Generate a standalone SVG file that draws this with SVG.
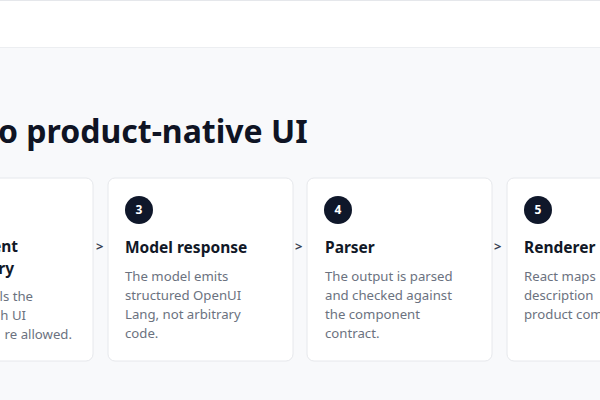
<svg xmlns="http://www.w3.org/2000/svg" width="600" height="400" viewBox="0 0 600 400">
<style>
text{font-family:"Noto Sans","Open Sans",sans-serif}
.card{fill:#fff;stroke:#e6e8ec;stroke-width:1}
.num{fill:#0f172a}
.nt{fill:#fff;font-size:12px;font-weight:700;text-anchor:middle}
.h{fill:#111827;font-size:15.5px;font-weight:700}
.d{fill:#6b7280;font-size:13.2px}
.arr{fill:#374151;font-size:13px;font-weight:700}
</style>
<rect width="600" height="400" fill="#f8f9fb"/>
<rect x="0" y="0" width="600" height="47" fill="#fff"/>
<line x1="0" y1="0.5" x2="600" y2="0.5" stroke="#e5e7eb"/>
<line x1="0" y1="47.5" x2="600" y2="47.5" stroke="#eceef1"/>
<text x="-2" y="143" fill="#0f1424" font-size="32" font-weight="700">o product-native UI</text>
<g id="node2">
<rect class="card" x="-20" y="178" width="113" height="183" rx="7"/>
<text class="h" x="18" y="252" text-anchor="end">ent</text>
<text class="h" x="14" y="274" text-anchor="end">ry</text>
<text class="d" x="33" y="301" text-anchor="end">ls the</text>
<text class="d" x="26" y="320" text-anchor="end">h UI</text>
<text class="d" x="72" y="339" text-anchor="end">re allowed.</text>
</g>
<g id="node3">
<rect class="card" x="108" y="178" width="185" height="183" rx="7"/>
<circle class="num" cx="139" cy="210" r="14"/><text class="nt" x="139" y="214">3</text>
<text class="h" x="125" y="253">Model response</text>
<text class="d" x="125" y="281">The model emits</text>
<text class="d" x="125" y="300">structured OpenUI</text>
<text class="d" x="125" y="319">Lang, not arbitrary</text>
<text class="d" x="125" y="338">code.</text>
</g>
<g id="node4">
<rect class="card" x="307" y="178" width="185" height="183" rx="7"/>
<circle class="num" cx="338" cy="210" r="14"/><text class="nt" x="338" y="214">4</text>
<text class="h" x="325" y="253">Parser</text>
<text class="d" x="325" y="281">The output is parsed</text>
<text class="d" x="325" y="300">and checked against</text>
<text class="d" x="325" y="319">the component</text>
<text class="d" x="325" y="338">contract.</text>
</g>
<g id="node5">
<rect class="card" x="507" y="178" width="120" height="183" rx="7"/>
<circle class="num" cx="538" cy="210" r="14"/><text class="nt" x="538" y="214">5</text>
<text class="h" x="524" y="253">Renderer</text>
<text class="d" x="524" y="281">React maps</text>
<text class="d" x="524" y="300">description</text>
<text class="d" x="524" y="319">product com</text>
</g>
<g id="connectors">
<text class="arr" x="96" y="251">&gt;</text>
<text class="arr" x="295" y="251">&gt;</text>
<text class="arr" x="494" y="251">&gt;</text>
</g>
</svg>
